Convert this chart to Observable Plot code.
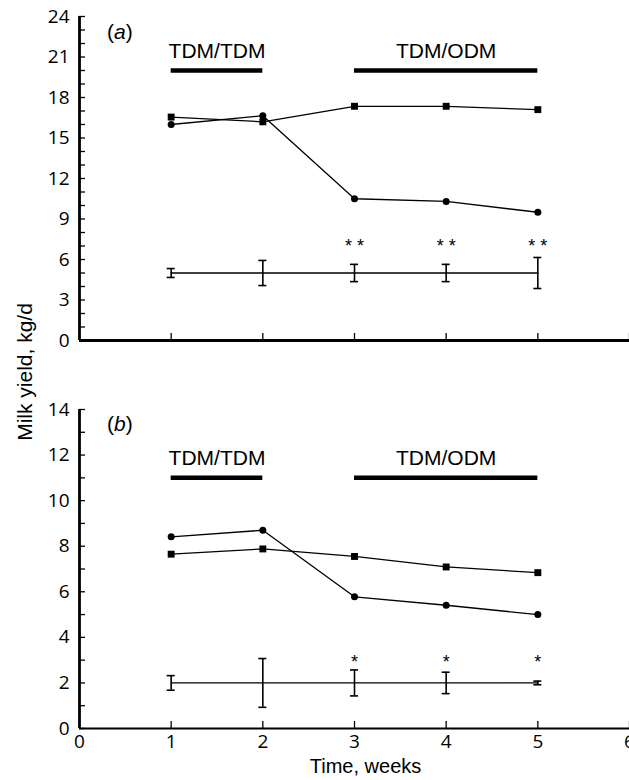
<!DOCTYPE html>
<html><head><meta charset="utf-8">
<script src="https://cdn.jsdelivr.net/npm/d3@7"></script>
<script src="https://cdn.jsdelivr.net/npm/@observablehq/plot@0.6"></script>
<style>
html,body{margin:0;padding:0;background:#fff;overflow:hidden;}
#wrap{position:relative;width:629px;height:780px;}
#wrap svg{display:block;}
#ylab{position:absolute;left:25px;top:372px;transform:translate(-50%,-50%) rotate(-90deg);font:21px "Liberation Sans";white-space:nowrap;color:#000;}
</style></head><body>
<div id="wrap"><div id="ylab">Milk yield, kg/d</div></div>
<script>
// ---- data ----
const weeks = [1, 2, 3, 4, 5];
const treatNames = ["TDM/TDM", "TDM/ODM"];
const treatStart = [1, 3];
const treatEnd = [2, 5];
const starWeeks = [3, 4, 5];

// Panel (a)
const aSquares = [16.55, 16.2, 17.35, 17.35, 17.1];
const aCircles = [16.0, 16.65, 10.5, 10.3, 9.5];
const aErrMean = [5, 5, 5, 5, 5];
const aErrHalf = [0.33, 0.93, 0.64, 0.64, 1.15];
const aStars = ["* *", "* *", "* *"];
const aYTicks = [0, 3, 6, 9, 12, 15, 18, 21, 24];
const aYMinor = d3.range(0, 25, 1);

// Panel (b)
const bSquares = [7.65, 7.88, 7.55, 7.09, 6.84];
const bCircles = [8.41, 8.70, 5.78, 5.41, 5.0];
const bErrMean = [2, 2, 2, 2, 2];
const bErrHalf = [0.32, 1.07, 0.57, 0.47, 0.08];
const bStars = ["*", "*", "*"];
const bYTicks = [0, 2, 4, 6, 8, 10, 12, 14];
const bYMinor = d3.range(0, 15, 1);

const xTickMarks = [1, 2, 3, 4, 5, 6];
const xTickLabels = [0, 1, 2, 3, 4, 5, 6];

function panel(cfg) {
  const rows = weeks.map((w, i) => ({
    week: w, sq: cfg.squares[i], ci: cfg.circles[i], m: cfg.errMean[i],
    lo: cfg.errMean[i] - cfg.errHalf[i], hi: cfg.errMean[i] + cfg.errHalf[i]
  }));
  const bars = treatNames.map((n, i) => ({name: n, x1: treatStart[i], x2: treatEnd[i], mid: (treatStart[i] + treatEnd[i]) / 2}));
  const stars = starWeeks.map((w, i) => ({week: w, t: cfg.stars[i]}));
  const marks = [
    Plot.ruleY(bars, {y: cfg.barY, x1: "x1", x2: "x2", strokeWidth: 4.5, stroke: "black"}),
    Plot.text(bars, {x: "mid", y: cfg.barLabelY, text: "name", fontSize: 21, fontFamily: "Liberation Sans", fill: "black"}),
    Plot.line(rows, {x: "week", y: "sq", strokeWidth: 1.3, stroke: "black"}),
    Plot.line(rows, {x: "week", y: "ci", strokeWidth: 1.3, stroke: "black"}),
    Plot.dot(rows, {x: "week", y: "sq", symbol: "square", r: 3.9, fill: "black"}),
    Plot.dot(rows, {x: "week", y: "ci", symbol: "circle", r: 3.5, fill: "black"}),
    Plot.line(rows, {x: "week", y: "m", strokeWidth: 1.3, stroke: "black"}),
    Plot.ruleX(rows, {x: "week", y1: "lo", y2: "hi", strokeWidth: 1.6, stroke: "black"}),
    Plot.ruleY(rows, {y: "lo", x1: "week", x2: "week", insetLeft: -4, insetRight: -4, strokeWidth: 1.6, stroke: "black"}),
    Plot.ruleY(rows, {y: "hi", x1: "week", x2: "week", insetLeft: -4, insetRight: -4, strokeWidth: 1.6, stroke: "black"}),
    Plot.text(stars, {x: "week", y: cfg.starY, text: "t", fontSize: 18, dy: 5, fontFamily: "Liberation Sans", fill: "black"}),
    Plot.text([cfg.letter], {x: 0.44, y: cfg.letterY, text: d => d, fontSize: 21, fontFamily: "Liberation Sans", fill: "black"}),
    Plot.axisY(cfg.yTicks, {tickSize: 0, tickPadding: 10, fontSize: 19, fontFamily: "Open Sans", label: null, fill: "black"}),
    Plot.axisY(cfg.yMinor, {text: null, tickSize: 6, dx: 6, strokeWidth: 1.3, label: null}),
    Plot.axisX(xTickMarks, {text: null, tickSize: 7, dy: -7, strokeWidth: 1.3, label: null}),
    Plot.ruleX([0], {strokeWidth: 2.8, stroke: "black"}),
    Plot.ruleY([0], {strokeWidth: cfg.xAxisWidth, stroke: "black"})
  ];
  if (cfg.xLabels) {
    marks.push(Plot.axisX(xTickLabels, {tickSize: 0, tickPadding: 6, fontSize: 19, fontFamily: "Open Sans", label: null, fill: "black"}));
    marks.push(Plot.text(["Time, weeks"], {frameAnchor: "bottom", dy: 44, dx: 11, text: d => d, fontSize: 20, fontFamily: "Liberation Sans", fill: "black"}));
  }
  const svg = Plot.plot({
    width: 629, height: cfg.height,
    marginLeft: 79, marginRight: 0, marginTop: cfg.marginTop, marginBottom: cfg.marginBottom,
    x: {domain: [0, 6], label: null},
    y: {domain: cfg.yDomain, label: null},
    style: {background: "white", color: "black", overflow: "visible", fontSize: "19px", fontFamily: "Open Sans"},
    marks
  });
  // italicize the panel letter
  d3.select(svg).selectAll("text").each(function () {
    const t = this.textContent;
    const m = /^\((\w)\)$/.exec(t);
    if (m) {
      const sel = d3.select(this);
      sel.text(null);
      sel.append("tspan").text("(");
      sel.append("tspan").attr("font-style", "italic").text(m[1]);
      sel.append("tspan").text(")");
    }
  });
  return svg;
}

const wrap = document.getElementById("wrap");
wrap.appendChild(panel({
  squares: aSquares, circles: aCircles, errMean: aErrMean, errHalf: aErrHalf, stars: aStars,
  yTicks: aYTicks, yMinor: aYMinor, yDomain: [0, 24],
  barY: 20, barLabelY: 21.4, starY: 7.35, letter: "(a)", letterY: 22.85,
  height: 350, marginTop: 16, marginBottom: 10, xLabels: false, xAxisWidth: 3
}));
wrap.appendChild(panel({
  squares: bSquares, circles: bCircles, errMean: bErrMean, errHalf: bErrHalf, stars: bStars,
  yTicks: bYTicks, yMinor: bYMinor, yDomain: [0, 14],
  barY: 11, barLabelY: 11.86, starY: 3.14, letter: "(b)", letterY: 13.35,
  height: 430, marginTop: 59, marginBottom: 52, xLabels: true, xAxisWidth: 2.2
}));
</script>
</body></html>
